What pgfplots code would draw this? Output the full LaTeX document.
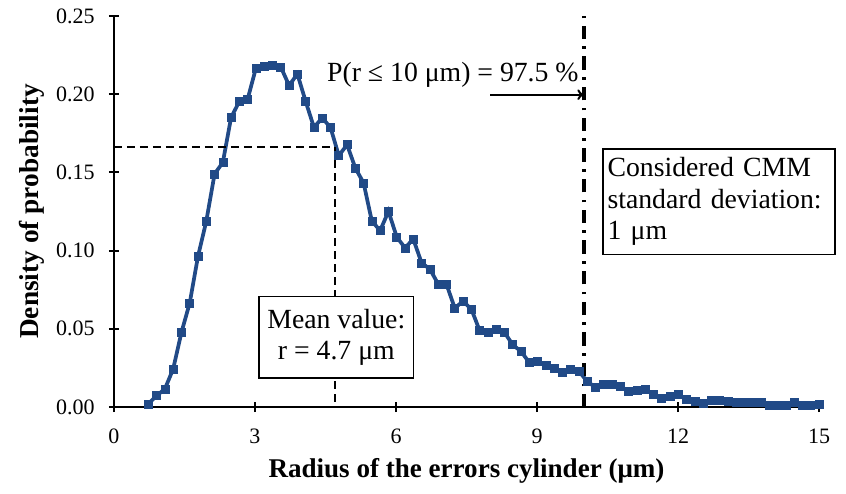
\documentclass[border=0pt]{standalone}
\usepackage{fontspec}
\setmainfont{Liberation Serif}
\usepackage{pgfplots}
\pgfplotsset{compat=1.18}
\usetikzlibrary{arrows.meta}
\definecolor{series}{RGB}{33,74,135}
\begin{document}
\fontsize{16.5}{19.5}\selectfont
\begin{tikzpicture}
\path[use as bounding box] (-85.5pt,-64.5pt) rectangle (549pt,305.25pt);
\begin{axis}[
  at={(0,0)}, anchor=south west,
  scale only axis, width=528.75pt, height=293.25pt,
  xmin=0, xmax=15, ymin=0, ymax=0.25,
  axis lines*=left,
  xtick={0,3,6,9,12,15},
  ytick={0,0.05,0.10,0.15,0.20,0.25},
  tick align=center, major tick length=7.5pt,
  /pgf/number format/assume math mode=true,
  yticklabel style={xshift=-5pt, /pgf/number format/.cd, fixed, fixed zerofill, precision=2},
  xticklabel style={yshift=-7pt},
  axis line style={line width=1.5pt},
  tick style={line width=1.5pt, black},
  xlabel={\fontsize{20.3}{24}\selectfont\bfseries Radius of the errors cylinder (μm)},
  ylabel={\fontsize{20.5}{24}\selectfont\bfseries Density of probability},
  xlabel style={at={(axis description cs:0.5,-0.163)}, anchor=center},
  ylabel style={at={(axis description cs:-0.117,0.5)}, anchor=center},
  clip=false,
]
\addplot[color=series, line width=2.8pt, mark=square*, mark size=3pt, mark options={line width=0.5pt}] coordinates {
(0.730,0.0020) (0.906,0.0072) (1.082,0.0115) (1.259,0.0243) (1.435,0.0477)
(1.611,0.0665) (1.787,0.0963) (1.963,0.1187) (2.140,0.1490) (2.316,0.1564)
(2.492,0.1852) (2.668,0.1954) (2.844,0.1969) (3.021,0.2168) (3.197,0.2178)
(3.373,0.2187) (3.549,0.2174) (3.725,0.2056) (3.902,0.2129) (4.078,0.1954)
(4.254,0.1788) (4.430,0.1848) (4.606,0.1788) (4.783,0.1607) (4.959,0.1677)
(5.135,0.1528) (5.311,0.1432) (5.487,0.1187) (5.664,0.1129) (5.840,0.1251)
(6.016,0.1087) (6.192,0.1017) (6.368,0.1074) (6.545,0.0921) (6.721,0.0882)
(6.897,0.0786) (7.073,0.0786) (7.249,0.0633) (7.426,0.0675) (7.602,0.0627)
(7.778,0.0490) (7.954,0.0477) (8.130,0.0499) (8.307,0.0477) (8.483,0.0398)
(8.659,0.0356) (8.835,0.0285) (9.011,0.0292) (9.188,0.0264) (9.364,0.0249)
(9.540,0.0221) (9.716,0.0243) (9.892,0.0228) (10.069,0.0164) (10.245,0.0125)
(10.421,0.0143) (10.597,0.0143) (10.773,0.0132) (10.950,0.0100) (11.126,0.0106)
(11.302,0.0115) (11.478,0.0079) (11.654,0.0058) (11.831,0.0068) (12.007,0.0079)
(12.183,0.0047) (12.359,0.0036) (12.535,0.0026) (12.712,0.0040) (12.888,0.0040)
(13.064,0.0036) (13.240,0.0030) (13.416,0.0030) (13.593,0.0030) (13.769,0.0032)
(13.945,0.0008) (14.121,0.0008) (14.297,0.0010) (14.474,0.0030) (14.650,0.0012)
(14.826,0.0012) (15.002,0.0020)
};
\draw[black, line width=1.8pt, dash pattern=on 6pt off 3.75pt] (axis cs:0,0.1662) -- (axis cs:4.7,0.1662) -- (axis cs:4.7,0);
\draw[black, line width=2.5pt, dash pattern=on 10pt off 5.5pt on 2pt off 5.5pt] (axis cs:10,0) -- (axis cs:10,0.253);
\draw[black, line width=1.5pt, -{To[length=5pt,width=8pt]}] (axis cs:8.0,0.1997) -- (axis cs:10.0,0.1997);
\node[anchor=center, font=\fontsize{20.8}{24}\selectfont] at (axis cs:7.21,0.2125) {P(r ≤ 10 μm) = 97.5 \%};
\node[draw, fill=white, line width=1pt, align=center, minimum width=116pt, minimum height=61pt, inner sep=2pt, font=\fontsize{20.8}{23}\selectfont] at (axis cs:4.73,0.0446) {Mean value:\\ r = 4.7 μm};
\node[draw, fill=white, line width=1pt, align=left, minimum width=174pt, minimum height=79pt, inner sep=3pt, text width=167pt, font=\fontsize{20.8}{23.5}\selectfont] at (axis cs:12.87,0.1313) {Considered CMM\\ standard deviation:\\ 1 μm};
\end{axis}
\end{tikzpicture}
\end{document}
